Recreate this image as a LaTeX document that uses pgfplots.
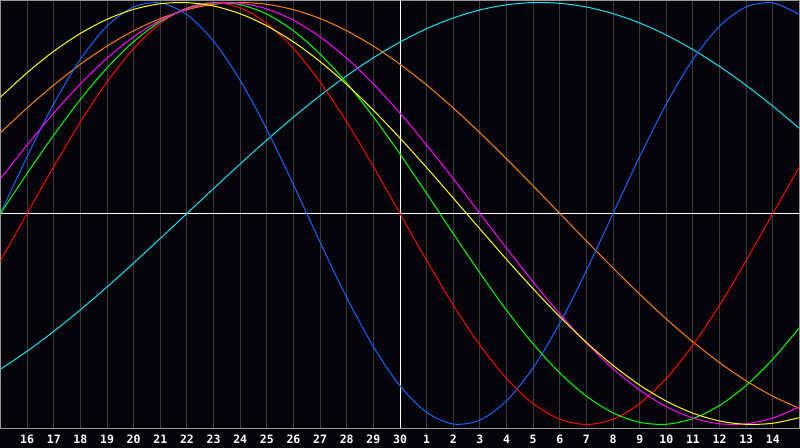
\documentclass[border=0pt]{standalone}
\usepackage{pgfplots}
\pgfplotsset{compat=1.18}
\usepackage{fontspec}
\setmonofont{DejaVu Sans Mono}

\definecolor{bgcol}{RGB}{4,4,10}
\definecolor{gridcol}{RGB}{58,58,62}
\definecolor{framecol}{RGB}{150,150,150}
\definecolor{cPhys}{RGB}{20,100,255}
\definecolor{cEmo}{RGB}{255,0,0}
\definecolor{cInt}{RGB}{0,255,0}
\definecolor{cMag}{RGB}{255,0,255}
\definecolor{cYel}{RGB}{255,255,0}
\definecolor{cOra}{RGB}{255,128,0}
\definecolor{cCya}{RGB}{20,225,245}

\begin{document}
\begin{tikzpicture}[x=1bp,y=1bp]
  \fill[bgcol] (-0.5,-19.5) rectangle (799.5,428.5);
  \path[use as bounding box] (-0.5,-19.5) rectangle (799.5,428.5);
  \begin{axis}[
      at={(0,0)}, anchor=south west,
      scale only axis,
      width=799bp, height=428bp,
      xmin=0, xmax=30,
      ymin=-1.019, ymax=1.0095,
      axis line style={framecol, line width=1bp},
      xtick={1,...,29},
      xticklabels={16,17,18,19,20,21,22,23,24,25,26,27,28,29,30,1,2,3,4,5,6,7,8,9,10,11,12,13,14},
      ytick=\empty,
      major tick length=0pt,
      xmajorgrids,
      grid style={gridcol, line width=1bp},
      extra x ticks={15},
      extra x tick labels={},
      extra x tick style={grid style={white, line width=1bp}},
      extra y ticks={0},
      extra y tick labels={},
      extra y tick style={grid style={white, line width=1bp}, ymajorgrids},
      /pgf/number format/assume math mode=true,
      xticklabel style={font=\fontsize{11.5bp}{13bp}\ttfamily\bfseries, text=white,
        anchor=center, yshift=-10.5bp},
      every axis plot/.append style={line width=1bp, no markers, smooth},
      clip=true,
    ]
    % cyan, period 53
    \addplot[cCya] coordinates {
      (0,-0.7380) (1,-0.6528) (2,-0.5587) (3,-0.4566) (4,-0.3482) (5,-0.2349)
      (6,-0.1183) (7,0) (8,0.1183) (9,0.2349) (10,0.3482) (11,0.4566)
      (12,0.5587) (13,0.6528) (14,0.7380) (15,0.8126) (16,0.8758) (17,0.9267)
      (18,0.9646) (19,0.9890) (20,0.9996) (21,0.9960) (22,0.9786) (23,0.9473)
      (24,0.9028) (25,0.8457) (26,0.7765) (27,0.6965) (28,0.6068) (29,0.5085)
      (30,0.4031)
    };
    % orange, period 48
    \addplot[cOra] coordinates {
      (0,0.3827) (1,0.5) (2,0.6088) (3,0.7071) (4,0.7934) (5,0.8660)
      (6,0.9239) (7,0.9659) (8,0.9914) (9,1) (10,0.9914) (11,0.9659)
      (12,0.9239) (13,0.8660) (14,0.7934) (15,0.7071) (16,0.6088) (17,0.5)
      (18,0.3827) (19,0.2588) (20,0.1305) (21,0) (22,-0.1305) (23,-0.2588)
      (24,-0.3827) (25,-0.5) (26,-0.6088) (27,-0.7071) (28,-0.7934) (29,-0.8660)
      (30,-0.9239)
    };
    % blue, period 23
    \addplot[cPhys] coordinates {
      (0,0) (1,0.2698) (2,0.5196) (3,0.7308) (4,0.8879) (5,0.9791)
      (6,0.9977) (7,0.9423) (8,0.8170) (9,0.6311) (10,0.3984) (11,0.1362)
      (12,-0.1362) (13,-0.3984) (14,-0.6311) (15,-0.8170) (16,-0.9423) (17,-0.9977)
      (18,-0.9791) (19,-0.8879) (20,-0.7308) (21,-0.5196) (22,-0.2698) (23,0)
      (24,0.2698) (25,0.5196) (26,0.7308) (27,0.8879) (28,0.9791) (29,0.9977)
      (30,0.9423)
    };
    % red, period 28
    \addplot[cEmo] coordinates {
      (0,-0.2225) (1,0) (2,0.2225) (3,0.4339) (4,0.6235) (5,0.7818)
      (6,0.9010) (7,0.9749) (8,1) (9,0.9749) (10,0.9010) (11,0.7818)
      (12,0.6235) (13,0.4339) (14,0.2225) (15,0) (16,-0.2225) (17,-0.4339)
      (18,-0.6235) (19,-0.7818) (20,-0.9010) (21,-0.9749) (22,-1) (23,-0.9749)
      (24,-0.9010) (25,-0.7818) (26,-0.6235) (27,-0.4339) (28,-0.2225) (29,0)
      (30,0.2225)
    };
    % green, period 33
    \addplot[cInt] coordinates {
      (0,0) (1,0.1893) (2,0.3717) (3,0.5406) (4,0.6901) (5,0.8146)
      (6,0.9096) (7,0.9718) (8,0.9989) (9,0.9898) (10,0.9450) (11,0.8660)
      (12,0.7557) (13,0.6182) (14,0.4582) (15,0.2817) (16,0.0951) (17,-0.0951)
      (18,-0.2817) (19,-0.4582) (20,-0.6182) (21,-0.7557) (22,-0.8660) (23,-0.9450)
      (24,-0.9898) (25,-0.9989) (26,-0.9718) (27,-0.9096) (28,-0.8146) (29,-0.6901)
      (30,-0.5406)
    };
    % magenta, period 38
    \addplot[cMag] coordinates {
      (0,0.1646) (1,0.3247) (2,0.4759) (3,0.6142) (4,0.7357) (5,0.8372)
      (6,0.9158) (7,0.9694) (8,0.9966) (9,0.9966) (10,0.9694) (11,0.9158)
      (12,0.8372) (13,0.7357) (14,0.6142) (15,0.4759) (16,0.3247) (17,0.1646)
      (18,0) (19,-0.1646) (20,-0.3247) (21,-0.4759) (22,-0.6142) (23,-0.7357)
      (24,-0.8372) (25,-0.9158) (26,-0.9694) (27,-0.9966) (28,-0.9966) (29,-0.9694)
      (30,-0.9158)
    };
    % yellow, period 43
    \addplot[cYel] coordinates {
      (0,0.5517) (1,0.6672) (2,0.7687) (3,0.8536) (4,0.9204) (5,0.9675)
      (6,0.9940) (7,0.9993) (8,0.9834) (9,0.9465) (10,0.8893) (11,0.8133)
      (12,0.7200) (13,0.6112) (14,0.4894) (15,0.3572) (16,0.2174) (17,0.0730)
      (18,-0.0730) (19,-0.2174) (20,-0.3572) (21,-0.4894) (22,-0.6112) (23,-0.7200)
      (24,-0.8133) (25,-0.8893) (26,-0.9465) (27,-0.9834) (28,-0.9993) (29,-0.9940)
      (30,-0.9675)
    };
  \end{axis}
\end{tikzpicture}
\end{document}
